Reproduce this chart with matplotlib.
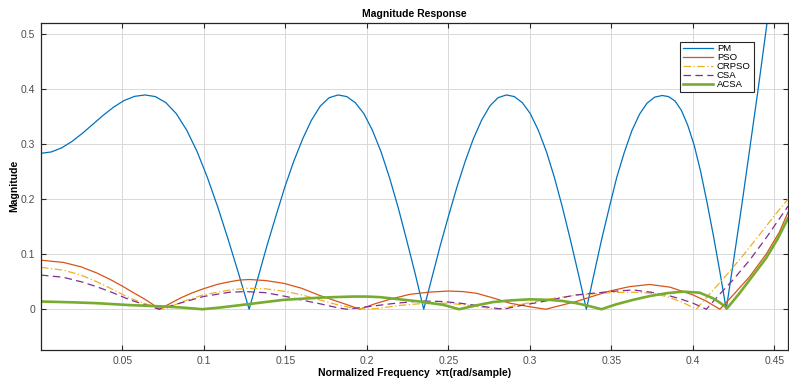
import matplotlib
matplotlib.use("Agg")
import matplotlib.pyplot as plt

plt.rcParams['font.family'] = ['Liberation Sans', 'DejaVu Sans']

# ---------------- data ----------------
pm_x = [0.0000, 0.0064, 0.0128, 0.0191, 0.0255, 0.0319, 0.0383, 0.0447, 0.0510, 0.0574, 0.0638,
        0.0702, 0.0766, 0.0830, 0.0894, 0.0958, 0.1021, 0.1085, 0.1149, 0.1213, 0.1277,
        0.1332, 0.1386, 0.1441, 0.1495, 0.1550, 0.1605, 0.1659, 0.1714, 0.1768, 0.1823,
        0.1876, 0.1928, 0.1981, 0.2033, 0.2086, 0.2138, 0.2191, 0.2243, 0.2296, 0.2348,
        0.2399, 0.2449, 0.2500, 0.2551, 0.2602, 0.2652, 0.2703, 0.2754, 0.2804, 0.2855,
        0.2904, 0.2953, 0.3002, 0.3051, 0.3101, 0.3150, 0.3199, 0.3248, 0.3297, 0.3346,
        0.3393, 0.3439, 0.3486, 0.3532, 0.3579, 0.3625, 0.3672, 0.3718, 0.3765, 0.3811,
        0.3850, 0.3890, 0.3929, 0.3968, 0.4008, 0.4047, 0.4086, 0.4125, 0.4165, 0.4204,
        0.4250, 0.4300, 0.4350, 0.4400, 0.4450, 0.4500, 0.4583]
pm_y = [0.283, 0.2856, 0.2931, 0.3048, 0.3196, 0.336, 0.3524, 0.3672, 0.3789, 0.3864, 0.389,
        0.386, 0.375, 0.355, 0.325, 0.286, 0.239, 0.185, 0.126, 0.064, 0.000,
        0.058, 0.115, 0.169, 0.221, 0.268, 0.309, 0.343, 0.369, 0.384, 0.389,
        0.386, 0.375, 0.355, 0.325, 0.286, 0.239, 0.185, 0.126, 0.064, 0.000,
        0.058, 0.115, 0.169, 0.221, 0.268, 0.309, 0.343, 0.369, 0.384, 0.389,
        0.386, 0.375, 0.355, 0.325, 0.286, 0.239, 0.185, 0.126, 0.064, 0.000,
        0.064, 0.126, 0.184, 0.239, 0.285, 0.324, 0.354, 0.374, 0.385, 0.388,
        0.386, 0.378, 0.361, 0.334, 0.297, 0.250, 0.194, 0.134, 0.068, 0.000,
        0.090, 0.190, 0.295, 0.400, 0.510, 0.625, 0.820]

pso_x = [0.000, 0.0137, 0.0245, 0.0341, 0.0425, 0.0505, 0.0567, 0.0627, 0.068, 0.0725, 0.079, 0.086,
         0.093, 0.0995, 0.108, 0.1159, 0.122, 0.128, 0.138, 0.149, 0.160, 0.171, 0.180, 0.188, 0.1956,
         0.205, 0.214, 0.2262, 0.238, 0.250, 0.259, 0.2671, 0.278, 0.2876, 0.299, 0.3096, 0.319, 0.3284,
         0.339, 0.3489, 0.361, 0.3734, 0.386, 0.400, 0.408, 0.4165, 0.425, 0.4347, 0.4449, 0.453, 0.4583]
pso_y = [0.089, 0.085, 0.077, 0.066, 0.054, 0.041, 0.030, 0.020, 0.010, 0.000, 0.010, 0.021,
         0.030, 0.037, 0.045, 0.050, 0.053, 0.054, 0.052, 0.047, 0.038, 0.025, 0.016, 0.008, 0.000,
         0.010, 0.018, 0.027, 0.031, 0.033, 0.032, 0.029, 0.020, 0.011, 0.005, 0.000, 0.007, 0.014,
         0.024, 0.033, 0.041, 0.045, 0.040, 0.026, 0.015, 0.000, 0.027, 0.059, 0.100, 0.140, 0.176]

crpso_x = [0.000, 0.0137, 0.0245, 0.0341, 0.044, 0.0546, 0.065, 0.076, 0.087, 0.0995, 0.1159, 0.1261,
           0.138, 0.1506, 0.160, 0.171, 0.182, 0.1915, 0.1997, 0.208, 0.220, 0.2324, 0.2487, 0.260,
           0.270, 0.2794, 0.290, 0.300, 0.315, 0.330, 0.3489, 0.362, 0.3754, 0.385, 0.394, 0.402,
           0.410, 0.420, 0.430, 0.440, 0.450, 0.4583]
crpso_y = [0.076, 0.071, 0.062, 0.050, 0.036, 0.020, 0.009, 0.000, 0.014, 0.026, 0.035, 0.038,
           0.037, 0.032, 0.026, 0.017, 0.008, 0.002, 0.000, 0.002, 0.007, 0.010, 0.011, 0.008,
           0.004, 0.000, 0.006, 0.012, 0.020, 0.026, 0.030, 0.031, 0.029, 0.022, 0.012, 0.000,
           0.027, 0.060, 0.095, 0.132, 0.170, 0.200]

csa_x = [0.000, 0.0137, 0.0245, 0.0341, 0.044, 0.0546, 0.064, 0.0725, 0.0852, 0.0995, 0.1159, 0.1261,
         0.138, 0.1506, 0.161, 0.171, 0.180, 0.1874, 0.2017, 0.215, 0.2324, 0.2467, 0.257, 0.2671,
         0.276, 0.2834, 0.295, 0.308, 0.318, 0.3284, 0.3489, 0.3632, 0.374, 0.3836, 0.392, 0.400,
         0.4082, 0.416, 0.4245, 0.435, 0.445, 0.4583]
csa_y = [0.062, 0.058, 0.050, 0.041, 0.030, 0.017, 0.008, 0.000, 0.011, 0.023, 0.031, 0.032,
         0.030, 0.023, 0.016, 0.010, 0.004, 0.000, 0.005, 0.010, 0.015, 0.014, 0.011, 0.007,
         0.003, 0.000, 0.007, 0.014, 0.020, 0.026, 0.032, 0.035, 0.031, 0.026, 0.019, 0.011,
         0.000, 0.026, 0.053, 0.090, 0.130, 0.187]

acsa_x = [0.000, 0.020, 0.0341, 0.0546, 0.075, 0.087, 0.099, 0.1097, 0.128, 0.1486, 0.160, 0.171,
          0.180, 0.1915, 0.200, 0.2078, 0.220, 0.2324, 0.2467, 0.2565, 0.267, 0.2773, 0.288, 0.2998,
          0.3121, 0.320, 0.3284, 0.336, 0.3438, 0.353, 0.3632, 0.3736, 0.3836, 0.3938, 0.4041, 0.4122,
          0.4165, 0.421, 0.428, 0.4347, 0.4449, 0.452, 0.4583]
acsa_y = [0.014, 0.0125, 0.011, 0.0075, 0.005, 0.003, 0.000, 0.003, 0.0095, 0.017, 0.019, 0.021,
          0.022, 0.023, 0.023, 0.022, 0.018, 0.014, 0.008, 0.000, 0.007, 0.013, 0.016, 0.018,
          0.017, 0.015, 0.011, 0.006, 0.000, 0.009, 0.017, 0.024, 0.029, 0.032, 0.030, 0.020,
          0.012, 0.002, 0.027, 0.053, 0.093, 0.128, 0.165]

x_ticks = [0.05, 0.1, 0.15, 0.2, 0.25, 0.3, 0.35, 0.4, 0.45]
x_tick_labels = ['0.05', '0.1', '0.15', '0.2', '0.25', '0.3', '0.35', '0.4', '0.45']
y_ticks = [0, 0.1, 0.2, 0.3, 0.4, 0.5]
y_tick_labels = ['0', '0.1', '0.2', '0.3', '0.4', '0.5']

# ---------------- figure ----------------
fig = plt.figure(figsize=(7.89, 3.81), dpi=100)
ax_w, ax_h = 747, 327.5
ax = fig.add_axes([41/789, 31/381, ax_w/789, ax_h/381])

ax.plot(pm_x, pm_y, color='#0072BD', lw=0.9, label='PM')
ax.plot(pso_x, pso_y, color='#D95319', lw=0.9, label='PSO')
ax.plot(crpso_x, crpso_y, color='#EDB120', lw=0.9, ls=(0, (6, 2, 1, 2)), label='CRPSO')
ax.plot(csa_x, csa_y, color='#7E2F8E', lw=0.9, ls=(0, (6, 3.5)), label='CSA')
ax.plot(acsa_x, acsa_y, color='#77AC30', lw=1.9, label='ACSA')

ax.set_xlim(0, 0.4583)
ax.set_ylim(-0.074, 0.5205)
ax.set_xticks(x_ticks)
ax.set_xticklabels(x_tick_labels)
ax.set_yticks(y_ticks)
ax.set_yticklabels(y_tick_labels)

ax.grid(True, color='#d9d9d9', lw=0.7)
ax.set_axisbelow(True)
for s in ax.spines.values():
    s.set_color('#262626')
    s.set_linewidth(0.9)
ax.tick_params(direction='in', length=3.5, width=0.8, top=True, right=True,
               labelsize=7.5, colors='#262626', labelcolor='#4d4d4d', pad=4)

ax.set_title('Magnitude Response', fontsize=7.5, fontweight='bold', pad=4)
ax.set_xlabel('Normalized Frequency  \u00d7\u03c0(rad/sample)', fontsize=7.5, fontweight='bold', labelpad=2)
ax.set_ylabel('Magnitude', fontsize=7.5, fontweight='bold', labelpad=1)

leg = ax.legend(loc='upper left', bbox_to_anchor=((680 - 41) / ax_w, 1 - (41.7 - 22.7) / ax_h),
                fontsize=6.8, frameon=True, fancybox=False, edgecolor='#262626', framealpha=1,
                handlelength=3.2, handletextpad=0.4, borderpad=0.3, labelspacing=0.0,
                borderaxespad=0)
leg.get_frame().set_linewidth(0.8)

fig.savefig('out.png', dpi=100)
